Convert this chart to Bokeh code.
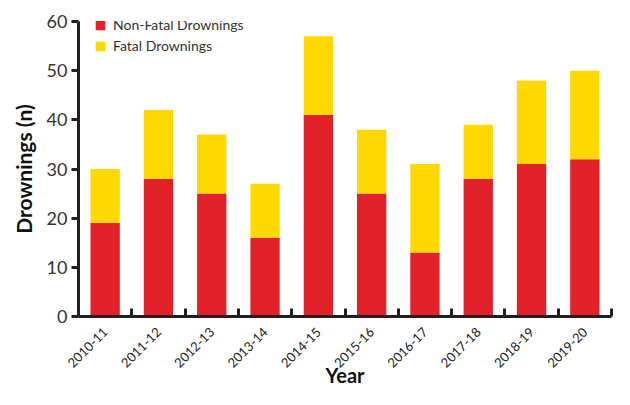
import numpy as np
from bokeh.plotting import figure
from bokeh.models import FixedTicker, Range1d, ColumnDataSource, Legend
from bokeh.embed import file_html
from bokeh.resources import INLINE

years = ["2010-11", "2011-12", "2012-13", "2013-14", "2014-15",
         "2015-16", "2016-17", "2017-18", "2018-19", "2019-20"]
non_fatal = [19, 28, 25, 16, 41, 25, 13, 28, 31, 32]
fatal = [11, 14, 12, 11, 16, 13, 18, 11, 17, 18]

RED = "#E32129"
YELLOW = "#FFD800"
FONT = "Lato"

x = np.arange(len(years)) + 0.5
src = ColumnDataSource(dict(x=x, non_fatal=non_fatal, fatal=fatal))

p = figure(width=614, height=389, output_backend="svg", toolbar_location=None,
           x_range=Range1d(0, len(years)), y_range=Range1d(0, 60),
           min_border_left=78, min_border_right=3, min_border_top=21,
           min_border_bottom=68)

r = p.vbar_stack(["non_fatal", "fatal"], x="x", width=0.55, source=src,
                 color=[RED, YELLOW], line_width=0)

p.outline_line_color = None
p.xgrid.visible = False
p.ygrid.visible = False

# y axis
ya = p.yaxis[0]
ya.ticker = FixedTicker(ticks=[0, 10, 20, 30, 40, 50, 60], minor_ticks=[])
ya.axis_line_width = 3
ya.axis_line_color = "#231f20"
ya.major_tick_line_width = 3
ya.major_tick_line_color = "#231f20"
ya.major_tick_out = 7
ya.major_tick_in = 0
ya.minor_tick_line_color = None
ya.major_label_text_font = FONT
ya.major_label_text_font_size = "18px"
ya.major_label_text_color = "#333333"
ya.major_label_standoff = 4
ya.axis_label = "Drownings (n)"
ya.axis_label_text_font = FONT
ya.axis_label_text_font_style = "bold"
ya.axis_label_text_font_size = "21px"
ya.axis_label_text_color = "#111111"
ya.axis_label_standoff = 8

# x axis
xa = p.xaxis[0]
xa.ticker = FixedTicker(ticks=list(x), minor_ticks=list(np.arange(1, len(years) + 1)))
xa.major_label_overrides = {float(v): lab for v, lab in zip(x, years)}
xa.axis_line_width = 3
xa.axis_line_color = "#231f20"
xa.major_tick_line_color = None
xa.minor_tick_line_width = 3
xa.minor_tick_line_color = "#231f20"
xa.minor_tick_in = 8
xa.minor_tick_out = 0
xa.major_label_orientation = np.pi / 4
xa.major_label_text_font = FONT
xa.major_label_text_font_size = "13px"
xa.major_label_text_color = "#222222"
xa.major_label_standoff = 7
xa.axis_label = "Year"
xa.axis_label_text_font = FONT
xa.axis_label_text_font_style = "bold"
xa.axis_label_text_font_size = "20px"
xa.axis_label_text_color = "#111111"
xa.axis_label_standoff = -12

legend = Legend(items=[("Non-Fatal Drownings", [r[0]]), ("Fatal Drownings", [r[1]])],
                location=(16, 262))
legend.background_fill_alpha = 0
legend.border_line_color = None
legend.label_text_font = FONT
legend.label_text_font_size = "14px"
legend.label_text_color = "#333333"
legend.glyph_width = 12
legend.glyph_height = 12
legend.spacing = 4
legend.padding = 0
legend.margin = 0
legend.label_height = 12
legend.label_standoff = 7
p.add_layout(legend)

open("out.html", "w").write(file_html(p, INLINE))
